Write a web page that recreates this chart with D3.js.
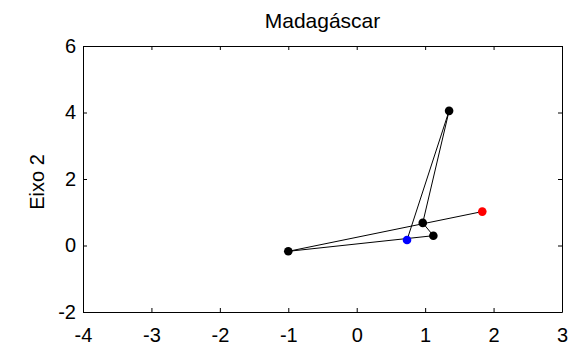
<!DOCTYPE html>
<html><head><meta charset="utf-8">
<script src="https://cdn.jsdelivr.net/npm/d3@7"></script>
<style>body{margin:0;background:#fff;} text{font-family:"Liberation Sans",Arial,sans-serif;}</style>
</head><body>
<script>
const xTicks = [-4,-3,-2,-1,0,1,2,3];
const yTicks = [-2,0,2,4,6];
const pointX = [0.735, 1.35, 0.965, 1.12, -1.0, 1.835];
const pointY = [0.165, 4.05, 0.68, 0.295, -0.175, 1.02];
const pointColor = ["#0000ff","#000000","#000000","#000000","#000000","#ff0000"];
const title = "Madagáscar";
const yLabel = "Eixo 2";

const W=574,H=348, L=83, R=562, T=46, B=312;
const svg=d3.select("body").append("svg").attr("width",W).attr("height",H);
const x=d3.scaleLinear().domain([-4,3]).range([L,R]);
const y=d3.scaleLinear().domain([-2,6]).range([B,T]);
const tl=4;
const fmt=d=>String(d);
svg.append("g").attr("transform",`translate(0,${B})`)
 .call(d3.axisBottom(x).tickValues(xTicks).tickSizeInner(-tl).tickSizeOuter(0).tickPadding(16).tickFormat(fmt))
 .call(g=>{g.attr("font-size",null).attr("font-family",null);g.selectAll("text").style("font-size","20px").attr("fill","#000");});
svg.append("g").attr("transform",`translate(0,${T})`)
 .call(d3.axisTop(x).tickValues(xTicks).tickSizeInner(-tl).tickSizeOuter(0).tickFormat(""));
svg.append("g").attr("transform",`translate(${L},0)`)
 .call(d3.axisLeft(y).tickValues(yTicks).tickSizeInner(-tl).tickSizeOuter(0).tickPadding(7).tickFormat(fmt))
 .call(g=>{g.attr("font-size",null).attr("font-family",null);g.selectAll("text").style("font-size","20px").attr("fill","#000");});
svg.append("g").attr("transform",`translate(${R},0)`)
 .call(d3.axisRight(y).tickValues(yTicks).tickSizeInner(-tl).tickSizeOuter(0).tickFormat(""));
svg.selectAll(".domain").attr("stroke","#000");
svg.selectAll(".tick line").attr("stroke","#000");

const pts=pointX.map((v,i)=>({x:v,y:pointY[i],c:pointColor[i]}));
svg.append("path").datum(pts).attr("fill","none").attr("stroke","#000").attr("stroke-width",1)
 .attr("d",d3.line().x(d=>x(d.x)).y(d=>y(d.y)));
svg.selectAll("circle.pt").data(pts).join("circle").attr("class","pt")
 .attr("cx",d=>x(d.x)).attr("cy",d=>y(d.y)).attr("r",4.3).attr("fill",d=>d.c);

svg.append("text").attr("x",(L+R)/2).attr("y",28).attr("text-anchor","middle").style("font-size","21px").text(title);
svg.append("text").attr("transform",`translate(44,${(T+B)/2+3}) rotate(-90)`).attr("text-anchor","middle").style("font-size","20px").text(yLabel);
</script>
</body></html>
